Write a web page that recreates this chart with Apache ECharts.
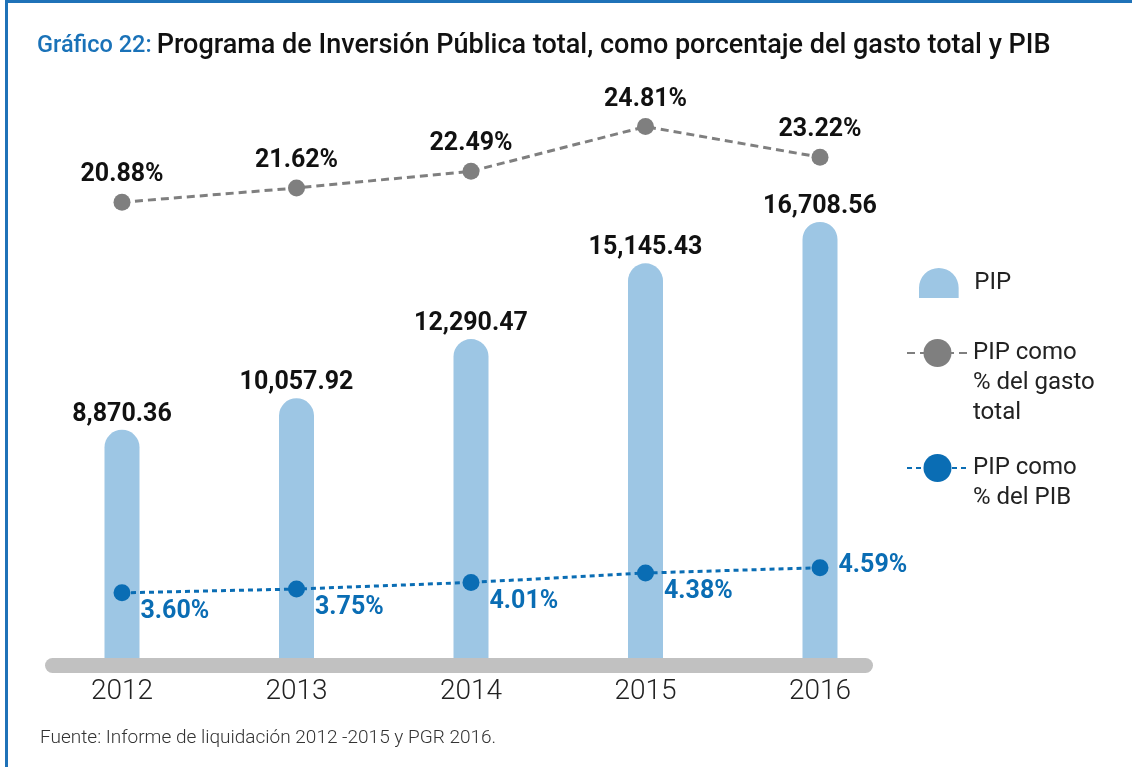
<!DOCTYPE html>
<html>
<head>
<meta charset="utf-8">
<script src="https://cdn.jsdelivr.net/npm/echarts@6/dist/echarts.min.js"></script>
<style>
  html, body { margin: 0; padding: 0; background: #fff; }
  #frame { position: absolute; left: 5px; top: 0; width: 1127px; height: 767px; box-sizing: border-box;
    border-top: 3px solid #1f72b8; border-left: 3px solid #1f72b8; }
  #main { position: absolute; left: 0; top: 0; width: 1132px; height: 767px; }
</style>
</head>
<body>
<div id="frame"></div>
<div id="main"></div>
<script>
  // datos del gráfico
  var years = ['2012', '2013', '2014', '2015', '2016']
  var pip = [8870.36, 10057.92, 12290.47, 15145.43, 16708.56]
  var pctGasto = [20.88, 21.62, 22.49, 24.81, 23.22]
  var pctPib = [3.60, 3.75, 4.01, 4.38, 4.59]

  var blue = '#0a6db4'
  var gray = '#7f7f7f'
  var font = 'Roboto'

  function money(v) {
    return v.toLocaleString('en-US', { minimumFractionDigits: 2, maximumFractionDigits: 2 })
  }

  // la última etiqueta del PIB va al lado del punto, las demás debajo
  var pibData = pctPib.map(function (v, i) {
    if (i === pctPib.length - 1) return { value: v, label: { offset: [0, -2] } }
    return v
  })

  var legendText = { fontSize: 24, color: '#222', fontFamily: font, lineHeight: 30 }

  var myChart = echarts.init(document.getElementById('main'))
  myChart.setOption({
    animation: false,
    title: [{
      left: 37,
      top: 33,
      padding: 0,
      text: '{a|Gráfico 22:} {b|Programa de Inversión Pública total, como porcentaje del gasto total y PIB}',
      textStyle: {
        rich: {
          a: { color: '#1a72b8', fontSize: 23.5, fontWeight: 500, fontFamily: font },
          b: { color: '#111', fontSize: 27, fontWeight: 500, fontFamily: font }
        }
      }
    }, {
      left: 40,
      top: 729,
      padding: 0,
      text: 'Fuente: Informe de liquidación 2012 -2015 y PGR 2016.',
      textStyle: { color: '#333', fontSize: 19, fontWeight: 300, fontFamily: font }
    }],
    legend: [{
      left: 919, top: 268, padding: 0, selectedMode: false,
      itemWidth: 61, itemHeight: 30,
      data: [{ name: 'PIP', icon: 'path://M0,28 L0,18.5 A18.5,18.5 0 0 1 37,18.5 L37,28 Z' }],
      textStyle: legendText
    }, {
      left: 906, top: 278, padding: 0, selectedMode: false,
      itemWidth: 61, itemHeight: 35,
      data: ['PIP como % del gasto total'],
      // líneas vacías arriba para que la primera línea quede junto al icono
      formatter: function () { return '\n\nPIP como\n% del gasto\ntotal' },
      textStyle: legendText
    }, {
      left: 906, top: 423, padding: 0, selectedMode: false,
      itemWidth: 61, itemHeight: 35,
      data: ['PIP como % del PIB'],
      formatter: function () { return '\nPIP como\n% del PIB' },
      textStyle: legendText
    }],
    grid: [
      { left: 34.75, width: 872.5, top: 80, height: 585 },
      // solo para la barra gris del eje
      { left: 52.5, width: 813, top: 664, height: 1 }
    ],
    xAxis: [{
      type: 'category',
      gridIndex: 0,
      data: years,
      axisLine: { show: false },
      axisTick: { show: false },
      axisLabel: { margin: 13, fontSize: 28, fontWeight: 300, color: '#222', fontFamily: font }
    }, {
      type: 'value',
      gridIndex: 1,
      min: 0,
      max: 1,
      z: 10,
      axisLine: { show: true, lineStyle: { color: '#c1c1c1', width: 15, cap: 'round' } },
      axisTick: { show: false },
      axisLabel: { show: false },
      splitLine: { show: false }
    }],
    yAxis: [
      { type: 'value', gridIndex: 0, show: false, min: 0, max: 22059, splitLine: { show: false } },
      { type: 'value', gridIndex: 0, show: false, min: -3.159, max: 27.23, splitLine: { show: false } },
      { type: 'value', gridIndex: 0, show: false, min: 0.759, max: 23.79, splitLine: { show: false } },
      { type: 'value', gridIndex: 1, show: false, splitLine: { show: false } }
    ],
    series: [{
      name: 'PIP',
      type: 'bar',
      xAxisIndex: 0,
      yAxisIndex: 0,
      barWidth: 35,
      data: pip,
      itemStyle: { color: '#9dc6e4', borderRadius: [17.5, 17.5, 0, 0] },
      label: {
        show: true,
        position: 'top',
        distance: 3,
        formatter: function (p) { return money(p.value) },
        fontSize: 25, fontWeight: 'bold', color: '#111', fontFamily: font
      }
    }, {
      name: 'PIP como % del gasto total',
      type: 'line',
      xAxisIndex: 0,
      yAxisIndex: 1,
      clip: false,
      data: pctGasto,
      symbol: 'circle',
      symbolSize: 17,
      z: 5,
      itemStyle: { color: gray },
      lineStyle: { color: gray, width: 3, type: [8, 5] },
      label: {
        show: true,
        position: 'top',
        distance: 6,
        formatter: function (p) { return p.value.toFixed(2) + '%' },
        fontSize: 25, fontWeight: 'bold', color: '#111', fontFamily: font
      }
    }, {
      name: 'PIP como % del PIB',
      type: 'line',
      xAxisIndex: 0,
      yAxisIndex: 2,
      clip: false,
      data: pibData,
      symbol: 'circle',
      symbolSize: 17,
      z: 5,
      itemStyle: { color: blue },
      lineStyle: { color: blue, width: 3, type: [5, 4] },
      label: {
        show: true,
        position: 'right',
        distance: 10,
        offset: [0, 19],
        formatter: function (p) { return p.value.toFixed(2) + '%' },
        fontSize: 25, fontWeight: 'bold', color: blue, fontFamily: font
      }
    }]
  })
</script>
</body>
</html>
